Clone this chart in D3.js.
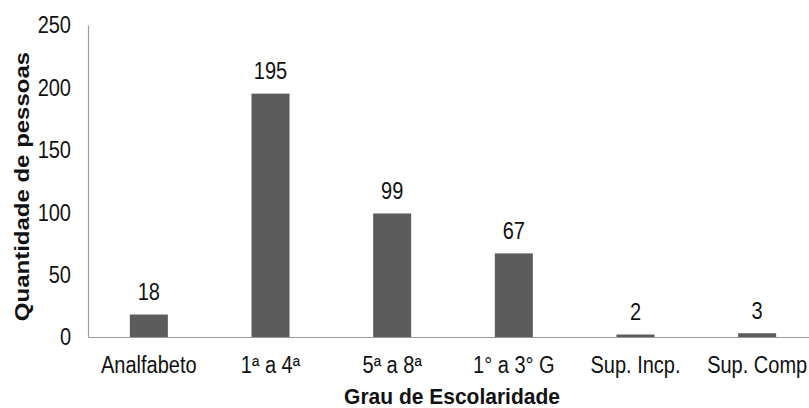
<!DOCTYPE html>
<html>
<head>
<meta charset="utf-8">
<script src="https://cdn.jsdelivr.net/npm/d3@7"></script>
<style>
  html, body { margin: 0; padding: 0; background: #fff; }
  svg { display: block; }
  text { font-family: "Liberation Sans", Arial, sans-serif; fill: #111; }
</style>
</head>
<body>
<svg id="chart" width="809" height="408"></svg>
<script>
// Nível de escolaridade dos entrevistados
const categories = ["Analfabeto", "1ª a 4ª", "5ª a 8ª", "1° a 3° G", "Sup. Incp.", "Sup. Comp"];
const values = [18, 195, 99, 67, 2, 3];
const yTicks = [0, 50, 100, 150, 200, 250];
const xTitle = "Grau de Escolaridade";
const yTitle = "Quantidade de pessoas";

const svg = d3.select("#chart");
const plotLeft = 88, plotRight = 818, plotTop = 25, plotBottom = 337;

const x = d3.scaleBand()
  .domain(categories)
  .range([plotLeft, plotRight])
  .paddingInner(0.6875)
  .paddingOuter(0.34375);

const y = d3.scaleLinear().domain([0, 250]).range([plotBottom, plotTop]);

// Text is slightly taller than it is wide
const sx = 0.87;

// Y axis line and labels
const yAxis = svg.append("g")
  .attr("transform", `translate(${plotLeft},0)`)
  .call(d3.axisLeft(y).tickValues(yTicks).tickSize(0).tickPadding(0));
yAxis.select(".domain").attr("stroke", "#9a9a9a").attr("stroke-width", 1.2);
yAxis.selectAll(".tick text")
  .attr("font-size", 23)
  .attr("dy", "0.34em")
  .attr("x", 0)
  .attr("text-anchor", "end")
  .attr("transform", `translate(-17,0) scale(${sx},1)`);

// X axis line and labels
const xAxis = svg.append("g")
  .attr("transform", `translate(0,${plotBottom})`)
  .call(d3.axisBottom(x).tickSize(0).tickPadding(0));
xAxis.select(".domain").attr("stroke", "#9a9a9a").attr("stroke-width", 1.2);
xAxis.selectAll(".tick text")
  .attr("font-size", 23)
  .attr("y", 0)
  .attr("dy", 0)
  .attr("transform", `translate(0,36) scale(${sx},1)`);

// Bars
svg.append("g").selectAll("rect")
  .data(values)
  .join("rect")
  .attr("x", (d, i) => x(categories[i]))
  .attr("width", x.bandwidth())
  .attr("y", d => y(d))
  .attr("height", d => y(0) - y(d))
  .attr("fill", "#5c5c5c");

// Value labels
svg.append("g").selectAll("text")
  .data(values)
  .join("text")
  .attr("text-anchor", "middle")
  .attr("font-size", 23)
  .attr("transform", (d, i) =>
    `translate(${x(categories[i]) + x.bandwidth() / 2},${y(d) - 14.5}) scale(${sx},1)`)
  .text(d => d);

// Axis titles
svg.append("text")
  .attr("text-anchor", "middle")
  .attr("font-size", 21)
  .attr("font-weight", "bold")
  .attr("transform", `translate(${(plotLeft + plotRight) / 2 - 1},404) scale(1,1.02)`)
  .text(xTitle);

svg.append("text")
  .attr("text-anchor", "middle")
  .attr("font-size", 24)
  .attr("font-weight", "bold")
  .attr("transform", `translate(29,${(53 + 320) / 2}) rotate(-90) scale(1,0.86)`)
  .text(yTitle);
</script>
</body>
</html>
